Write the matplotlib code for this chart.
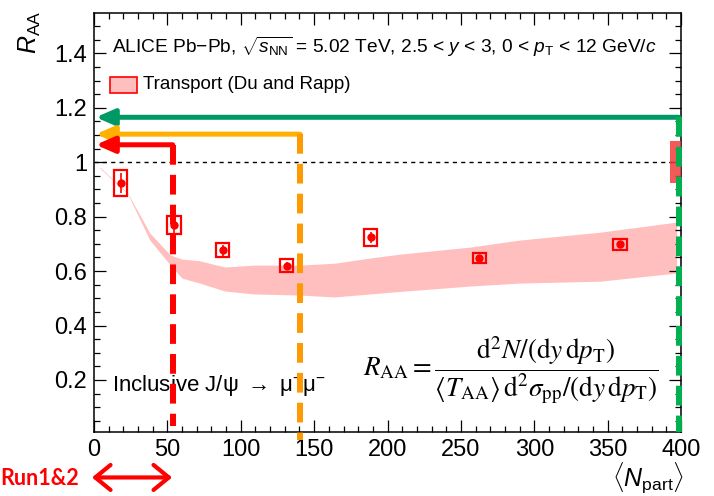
import numpy as np
import matplotlib.pyplot as plt
from matplotlib.patches import Rectangle
from matplotlib.ticker import MultipleLocator, FuncFormatter

plt.rcParams['font.family'] = ['Liberation Sans', 'DejaVu Sans']
plt.rcParams['mathtext.fontset'] = 'custom'
plt.rcParams['mathtext.rm'] = 'Liberation Sans'
plt.rcParams['mathtext.it'] = 'Liberation Sans:italic'
plt.rcParams['mathtext.bf'] = 'Liberation Sans:bold'

# J/psi R_AA vs <Npart>
npart = [18.2, 54.5, 87.7, 131.3, 188.5, 262.6, 358.4]
raa = [0.924, 0.768, 0.677, 0.619, 0.724, 0.647, 0.698]
stat_err = [0.037, 0.030, 0.020, 0.015, 0.020, 0.012, 0.012]
syst_err = [0.048, 0.033, 0.026, 0.024, 0.030, 0.018, 0.020]
global_err = 0.077

# transport model band (Du and Rapp)
band_x = [4, 23, 38, 52, 60, 72, 89, 109, 140, 164, 188, 208, 256, 290, 345, 397]
band_hi = [0.982, 0.886, 0.740, 0.659, 0.644, 0.638, 0.615, 0.622, 0.622, 0.629,
           0.648, 0.662, 0.688, 0.714, 0.743, 0.780]
band_lo = [0.978, 0.883, 0.714, 0.622, 0.574, 0.556, 0.527, 0.516, 0.512, 0.505,
           0.516, 0.525, 0.545, 0.556, 0.563, 0.593]

# run ranges: (npart reach, R_AA level)
run_red = (53.6, 1.064)
run_orange = (140.4, 1.103)
run_green = (398.5, 1.165)

fig = plt.figure(figsize=(7.14, 4.96), dpi=100)
ax = fig.add_axes([0.1317, 0.1296, 0.8221, 0.8436])
ax.set_xlim(0, 400)
ax.set_ylim(0.01, 1.547)

ax.fill_between(band_x, band_lo, band_hi, color='#ffbfbf', lw=0, zorder=1)

ax.axhline(1.0, color='black', lw=1.0, dashes=(3, 3), zorder=2)

# data: systematic boxes, stat bars, points
for x, y, st, sy in zip(npart, raa, stat_err, syst_err):
    ax.add_patch(Rectangle((x - 4.5, y - sy), 9.0, 2 * sy, fill=False,
                           ec='red', lw=1.6, zorder=5))
ax.errorbar(npart, raa, yerr=stat_err, fmt='o', color='red', ms=5,
            elinewidth=1.2, capsize=0, zorder=6)
ax.add_patch(Rectangle((392.5, 1 - global_err), 15, 2 * global_err,
                       fc='#f03c3c', ec='none', alpha=0.85, zorder=4))

# run reach markers
def reach(xr, yr, hcol, vcol, y_end):
    ax.annotate('', xy=(1.2, yr), xytext=(xr, yr),
                arrowprops=dict(arrowstyle='-|>,head_length=1.1,head_width=0.48',
                                color=hcol, lw=3.6, shrinkA=0, shrinkB=0,
                                mutation_scale=10),
                annotation_clip=False, zorder=7)
    ax.plot([xr, xr], [yr, y_end], color=vcol, lw=4.3, dashes=(3.3, 1.7),
            solid_capstyle='butt', dash_capstyle='butt', clip_on=False, zorder=7)

reach(*run_green, '#009966', '#00b050', 0.01)
reach(*run_orange, '#ffb000', '#ff9900', -0.02)
reach(*run_red, '#ff0000', '#ff0000', 0.03)

# axes style
ax.xaxis.set_major_locator(MultipleLocator(50))
ax.xaxis.set_minor_locator(MultipleLocator(10))
ax.yaxis.set_major_locator(MultipleLocator(0.2))
ax.yaxis.set_minor_locator(MultipleLocator(0.05))
ax.yaxis.set_major_formatter(FuncFormatter(lambda v, p: '%g' % round(v, 2)))
ax.tick_params(which='both', direction='in', top=True, right=True, width=0.9,
               labelsize=17)
ax.tick_params(which='major', length=8.5, pad=5)
ax.tick_params(which='minor', length=4.3)
for s in ax.spines.values():
    s.set_linewidth(1.1)

ax.text(0.031, 0.919,
        r'ALICE Pb$-$Pb, $\sqrt{s_{\rm NN}}$ = 5.02 TeV, 2.5 < $y$ < 3, 0 < $p_{\rm T}$ < 12 GeV/$c$',
        transform=ax.transAxes, fontsize=13.8, va='center')
ax.add_patch(Rectangle((0.027, 0.81), 0.046, 0.038, transform=ax.transAxes,
                       fc='#ffbfbf', ec='red', lw=1.2, zorder=8))
ax.text(0.083, 0.829, 'Transport (Du and Rapp)', transform=ax.transAxes,
        fontsize=13.5, va='center')
ax.text(0.031, 0.109, r'Inclusive J/ψ $\rightarrow$ μ$^{+}$μ$^{-}$', transform=ax.transAxes,
        fontsize=16, va='center', zorder=3)
ax.text(0.458, 0.148,
        r'$R_{\rm AA} = \dfrac{{\rm d}^2N/({\rm d}y\,{\rm d}p_{\rm T})}'
        r'{\langle T_{\rm AA}\rangle\,{\rm d}^2\sigma_{\rm pp}/({\rm d}y\,{\rm d}p_{\rm T})}$',
        transform=ax.transAxes, fontsize=19.5, va='center', math_fontfamily='stix')

fig.text(0.042, 0.935, r'$R_{\rm AA}$', rotation=90, fontsize=18,
         ha='center', va='center')
fig.text(0.908, 0.036, r'$\langle N_{\rm part}\rangle$', fontsize=18,
         ha='center', va='center')

# Run1&2 reach below the axis
fig.text(0.0, 0.036, 'Run1&2', color='red', fontsize=15.5, fontweight='bold',
         family='Lato', va='center')
ax.annotate('', xy=(-1.4, -0.158), xytext=(53.2, -0.158),
            arrowprops=dict(arrowstyle='<->,head_length=0.55,head_width=0.45',
                            color='red', lw=3, shrinkA=0, shrinkB=0,
                            mutation_scale=20),
            annotation_clip=False)

fig.savefig('out.png', dpi=100)
